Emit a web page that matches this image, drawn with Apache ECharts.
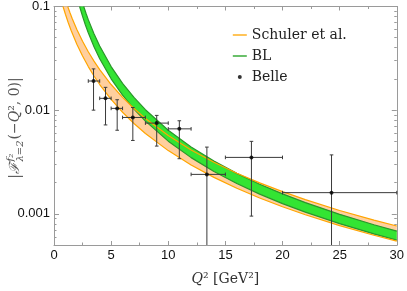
<!DOCTYPE html>
<html><head><meta charset="utf-8">
<script src="https://cdn.jsdelivr.net/npm/echarts@6/dist/echarts.min.js"></script>
<style>html,body{margin:0;padding:0;background:#fff}#c{width:407px;height:291px}</style>
</head><body><div id="c"></div>
<script>
// ---------------- data ----------------
// Schuler et al. band: lower and upper edges (each starts where it enters the plot at 0.1)
const schulerLowQ2  = [0.79, 1, 1.25, 1.5, 2, 2.5, 3, 3.5, 4, 5, 6, 7, 8, 10, 12, 14, 16, 18, 20, 22, 25, 28, 30];
const schulerLow    = [0.1, 0.0841, 0.0697, 0.0587, 0.0433, 0.03324, 0.02632, 0.02135, 0.01767, 0.01268, 0.00954, 0.00743, 0.00596, 0.00407, 0.00296, 0.002245, 0.001762, 0.00142, 0.001168, 0.000978, 0.00077, 0.000621, 0.000545];
const schulerHighQ2 = [1.2, 1.4, 1.6, 2, 2.5, 3, 3.5, 4, 5, 6, 7, 8, 10, 12, 14, 16, 18, 20, 22, 25, 28, 30];
const schulerHigh   = [0.1, 0.0869, 0.07625, 0.0601, 0.04617, 0.0366, 0.02971, 0.0246, 0.01767, 0.0133, 0.01037, 0.00832, 0.00569, 0.00413, 0.00314, 0.002464, 0.001986, 0.001635, 0.001369, 0.001077, 0.000869, 0.000763];
// BL band
const blLowQ2  = [2.24, 2.5, 2.75, 3, 3.5, 4, 5, 6, 7, 8, 10, 12, 14, 16, 18, 20, 22, 25, 28, 30];
const blLow    = [0.1, 0.0803, 0.06635, 0.05575, 0.04096, 0.03136, 0.02007, 0.01394, 0.01024, 0.00784, 0.00502, 0.003484, 0.00256, 0.00196, 0.001549, 0.001254, 0.001037, 0.000803, 0.00064, 0.000558];
const blHighQ2 = [2.6, 2.8, 3, 3.5, 4, 5, 6, 7, 8, 10, 12, 14, 16, 18, 20, 22, 25, 28, 30];
const blHigh   = [0.1, 0.0860, 0.0747, 0.05453, 0.04153, 0.02634, 0.01816, 0.01327, 0.0101, 0.0064, 0.004416, 0.003224, 0.002455, 0.00193, 0.001558, 0.001282, 0.000988, 0.000784, 0.000681];
// Belle data with Q² bins and asymmetric errors
const belleQ2   = [3.46, 4.51, 5.53, 6.90, 8.99, 10.97, 13.38, 17.28, 24.29];
const belleF    = [0.0191, 0.0130, 0.0104, 0.0085, 0.0075, 0.0066, 0.0024, 0.0035, 0.0016];
const belleQ2Lo = [3, 4, 5, 6, 8, 10, 12, 15, 20];
const belleQ2Hi = [4, 5, 6, 8, 10, 12, 15, 20, 30];
const belleFLo  = [0.0100, 0.0072, 0.0064, 0.0051, 0.0045, 0.0034, null, 0.00095, null]; // null: bar reaches below the axis
const belleFHi  = [0.0250, 0.0166, 0.0126, 0.0106, 0.0089, 0.0079, 0.0044, 0.0050, 0.0037];
// axes
const xTickStep = 5;
const yTickLabels = [0.001, 0.01, 0.1];
const yMinorTickValues = [0.0006, 0.0007, 0.0008, 0.0009,
  0.002, 0.003, 0.004, 0.005, 0.006, 0.007, 0.008, 0.009,
  0.02, 0.03, 0.04, 0.05, 0.06, 0.07, 0.08, 0.09];
const xRange = [0, 30];
const yRange = [0.0005, 0.1];

// ---------------- helpers ----------------
const lg = Math.log10;
const Y_MIN = lg(yRange[0]), Y_MAX = lg(yRange[1]);
const FRAME = '#9a9a9a';
const ORANGE = '#FFA500', PEACH = '#FFCF9E';
const GREEN_EDGE = '#2a962a', GREEN_FILL = '#33E433';
const SANS = '"Liberation Sans", Arial, sans-serif';
const SERIF = '"DejaVu Serif", serif';

function pairs(xs, ys) { return xs.map((x, i) => [x, lg(ys[i])]); }

const chart = echarts.init(document.getElementById('c'), null, {renderer: 'canvas'});

function yAxisDef(pos, ticks, len, labels) {
  return {
    type: 'value', position: pos, min: Y_MIN, max: Y_MAX,
    axisLine: {show: true, onZero: false, lineStyle: {color: FRAME, width: 1}},
    axisTick: {show: true, inside: true, length: len, customValues: ticks.map(lg), lineStyle: {color: FRAME}},
    axisLabel: labels ? {
      show: true, customValues: labels.map(lg), margin: 4, color: '#111', fontSize: 13, fontFamily: SANS,
      formatter: v => { const t = labels.find(t => Math.abs(lg(t) - v) < 1e-6); return t === undefined ? '' : String(t); }
    } : {show: false},
    splitLine: {show: false}
  };
}
function xAxisDef(pos, withLabels) {
  return {
    type: 'value', position: pos, min: xRange[0], max: xRange[1], interval: xTickStep,
    axisLine: {show: true, onZero: false, lineStyle: {color: FRAME, width: 1}},
    axisTick: {show: true, inside: true, length: 4, lineStyle: {color: FRAME}},
    minorTick: {show: true, splitNumber: 2, length: 2.5, lineStyle: {color: FRAME}},
    axisLabel: withLabels ? {show: true, margin: 4, color: '#111', fontSize: 13, fontFamily: SANS} : {show: false},
    splitLine: {show: false}, minorSplitLine: {show: false},
    name: withLabels ? '{i|Q}² [GeV²]' : '',
    nameLocation: 'middle', nameGap: 27,
    nameTextStyle: {fontFamily: SERIF, fontSize: 14, color: '#333',
      rich: {i: {fontStyle: 'italic', fontFamily: SERIF, fontSize: 14, color: '#333'}}}
  };
}

// filled band between two edges: upper edge forward, lower edge backward, closed along the top
function bandFill(name, hiQ2, hi, loQ2, lo, fill) {
  const hiPts = pairs(hiQ2, hi), loPts = pairs(loQ2, lo);
  return {
    type: 'custom', name: name, data: hiPts, encode: {x: 0, y: 1}, silent: true, z: 1,
    renderItem: function (params, api) {
      if (params.dataIndex !== 0) return null;
      const pts = hiPts.map(p => api.coord(p)).concat(loPts.slice().reverse().map(p => api.coord(p)));
      return {type: 'polygon', shape: {points: pts}, style: {fill: fill, stroke: null}};
    }
  };
}
function edgeSeries(name, xs, ys, color) {
  return {type: 'line', name: name, data: pairs(xs, ys), symbol: 'none', showSymbol: false, smooth: false,
          lineStyle: {color: color, width: 1.2}, itemStyle: {color: color}, z: 2};
}

const belleData = belleQ2.map((q, i) => [q, lg(belleF[i]), belleQ2Lo[i], belleQ2Hi[i],
  belleFLo[i] == null ? null : lg(belleFLo[i]), lg(belleFHi[i])]);

// ---------------- y title built from text pieces ----------------
function yTitle() {
  const big = 14, small = 10, col = '#555';
  const ctx = document.createElement('canvas').getContext('2d');
  const w = (t, s, it) => { ctx.font = (it ? 'italic ' : '') + s + 'px ' + SERIF; return ctx.measureText(t).width; };
  const pieces = [];
  let x = 0;
  const add = (t, s, it, dy) => { pieces.push({t, s, it, dy, x}); return w(t, s, it); };
  x += add('|', big, false, 0);
  x += add('ℱ', big, true, 0) + 0.5;
  const wsup = add('f₂', small, true, -5);
  const wsub = add('λ=2', small, true, 5);
  x += Math.max(wsup, wsub) + 1;
  x += add('(−', big, false, 0);
  x += add('Q', big, true, 0);
  x += add('², 0)', big, false, 0);
  x += add('|', big, false, 0);
  const total = x;
  return {
    type: 'group', x: 15, y: 128, rotation: Math.PI / 2,
    children: pieces.map(p => ({
      type: 'text', x: p.x - total / 2, y: p.dy,
      style: {text: p.t, fontSize: p.s, fontFamily: SERIF, fontStyle: p.it ? 'italic' : 'normal',
              fill: col, align: 'left', verticalAlign: 'middle'}
    }))
  };
}

const option = {
  animation: false,
  backgroundColor: '#fff',
  grid: {left: 54, right: 9, top: 6, bottom: 44, containLabel: false},
  xAxis: [xAxisDef('bottom', true), xAxisDef('top', false)],
  yAxis: [
    yAxisDef('left', yTickLabels, 5, yTickLabels),
    yAxisDef('left', yMinorTickValues, 2.5, null),
    yAxisDef('right', yTickLabels, 5, null),
    yAxisDef('right', yMinorTickValues, 2.5, null)
  ],
  legend: {
    orient: 'vertical', left: 227, top: 23, itemWidth: 14, itemHeight: 4, itemGap: 7,
    data: [
      {name: 'Schuler et al.', lineStyle: {width: 1.6, color: '#FFB52E'}, itemStyle: {opacity: 0}},
      {name: 'BL', lineStyle: {width: 1.6, color: '#45B045'}, itemStyle: {opacity: 0}},
      {name: 'Belle', icon: 'circle'}
    ],
    textStyle: {fontFamily: SERIF, fontSize: 14, color: '#222'},
    selectedMode: false
  },
  graphic: [yTitle()],
  series: [
    bandFill('Schuler et al. band', schulerHighQ2, schulerHigh, schulerLowQ2, schulerLow, PEACH),
    bandFill('BL band', blHighQ2, blHigh, blLowQ2, blLow, GREEN_FILL),
    edgeSeries('BL', blLowQ2, blLow, GREEN_EDGE),
    edgeSeries('BL', blHighQ2, blHigh, GREEN_EDGE),
    edgeSeries('Schuler et al.', schulerLowQ2, schulerLow, ORANGE),
    edgeSeries('Schuler et al.', schulerHighQ2, schulerHigh, ORANGE),
    {
      type: 'custom', name: 'Belle errors', data: belleData, encode: {x: 0, y: 1}, z: 3,
      renderItem: function (params, api) {
        const x = api.value(0), y = api.value(1);
        const p = api.coord([x, y]);
        const pl = api.coord([api.value(2), y]);
        const ph = api.coord([api.value(3), y]);
        const ylRaw = api.value(4);
        const hasLo = ylRaw != null && isFinite(ylRaw) && !isNaN(ylRaw);
        const pyl = api.coord([x, hasLo ? ylRaw : Y_MIN]);
        const pyh = api.coord([x, api.value(5)]);
        const c = 1.8;
        const st = {stroke: '#3a3a3a', lineWidth: 1};
        const ch = [
          {type: 'line', shape: {x1: pl[0], y1: p[1], x2: ph[0], y2: p[1]}, style: st},
          {type: 'line', shape: {x1: p[0], y1: pyl[1], x2: p[0], y2: pyh[1]}, style: st},
          {type: 'line', shape: {x1: pl[0], y1: p[1] - c, x2: pl[0], y2: p[1] + c}, style: st},
          {type: 'line', shape: {x1: ph[0], y1: p[1] - c, x2: ph[0], y2: p[1] + c}, style: st},
          {type: 'line', shape: {x1: p[0] - c, y1: pyh[1], x2: p[0] + c, y2: pyh[1]}, style: st}
        ];
        if (hasLo) ch.push({type: 'line', shape: {x1: p[0] - c, y1: pyl[1], x2: p[0] + c, y2: pyl[1]}, style: st});
        return {type: 'group', children: ch};
      }
    },
    {type: 'scatter', name: 'Belle', data: belleQ2.map((q, i) => [q, lg(belleF[i])]),
     symbol: 'circle', symbolSize: 4, itemStyle: {color: '#000'}, z: 4}
  ]
};
chart.setOption(option);
</script>
</body></html>
